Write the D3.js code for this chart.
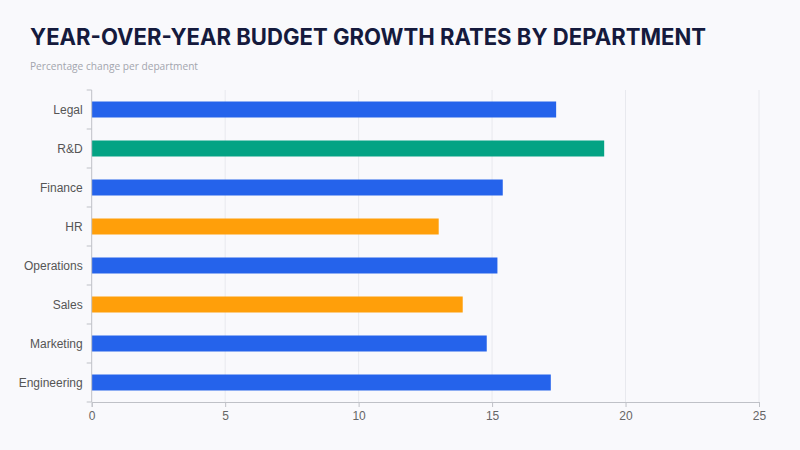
<!DOCTYPE html>
<html><head><meta charset="utf-8">
<script src="https://cdn.jsdelivr.net/npm/d3@7"></script>
<style>
html,body{margin:0;padding:0;background:#f9f9fc;}
svg{display:block;}
</style></head>
<body>
<svg id="chart" width="800" height="450"></svg>
<script>
const categories = ["Legal","R&D","Finance","HR","Operations","Sales","Marketing","Engineering"];
const growth = [17.4, 19.2, 15.4, 13.0, 15.2, 13.9, 14.8, 17.2];
const barColors = ["#2563eb","#04a384","#2563eb","#ff9f0a","#2563eb","#ff9f0a","#2563eb","#2563eb"];
const xTicks = [0,5,10,15,20,25];
const title = "YEAR-OVER-YEAR BUDGET GROWTH RATES BY DEPARTMENT";
const subtitle = "Percentage change per department";

const svg = d3.select("#chart");
svg.append("rect").attr("width",800).attr("height",450).attr("fill","#f9f9fc");

const m = {left:91.7, right:759, top:90, bottom:402};
const x = d3.scaleLinear().domain([0,25]).range([m.left,m.right]);
const y = d3.scaleBand().domain(categories).range([m.top,m.bottom]).paddingInner(0.59).paddingOuter(0.295);

// title
svg.append("text").attr("x",30).attr("y",45)
  .attr("font-family","Inter, 'DejaVu Sans', sans-serif").attr("font-weight",700)
  .attr("font-size",22.5).attr("fill","#151a3d")
  .attr("textLength",676).attr("lengthAdjust","spacingAndGlyphs")
  .text(title);
svg.append("text").attr("x",30).attr("y",70)
  .attr("font-family","'Open Sans', 'Noto Sans', sans-serif")
  .attr("font-size",11.5).attr("fill","#a3a5ae")
  .attr("textLength",168).attr("lengthAdjust","spacingAndGlyphs").text(subtitle);

// grid
svg.append("g").selectAll("line").data(xTicks.slice(1)).join("line")
  .attr("x1",d=>x(d)).attr("x2",d=>x(d)).attr("y1",m.top).attr("y2",m.bottom)
  .attr("stroke","#e8e9ee").attr("stroke-width",1);

// bars
svg.append("g").selectAll("rect").data(categories).join("rect")
  .attr("x",x(0)).attr("y",d=>y(d))
  .attr("width",(d,i)=>x(growth[i])-x(0)).attr("height",y.bandwidth())
  .attr("fill",(d,i)=>barColors[i]);

// x axis
const xa = svg.append("g").attr("transform",`translate(0,${m.bottom})`)
  .call(d3.axisBottom(x).tickValues(xTicks).tickSize(5).tickPadding(4));
xa.select(".domain").attr("stroke","#bfc1c7");
xa.selectAll(".tick line").attr("stroke","#bfc1c7");
xa.selectAll("text").attr("font-family","'Liberation Sans', Arial, sans-serif").attr("font-size",12).attr("fill","#666");

// y axis
const step = y.step();
const boundaries = d3.range(categories.length+1).map(i=>m.top + i*step);
const ya = svg.append("g");
ya.append("line").attr("x1",m.left).attr("x2",m.left).attr("y1",m.top).attr("y2",m.bottom).attr("stroke","#bfc1c7");
ya.selectAll(".tk").data(boundaries).join("line").attr("class","tk")
  .attr("x1",m.left-5).attr("x2",m.left).attr("y1",d=>d).attr("y2",d=>d).attr("stroke","#bfc1c7");
ya.selectAll("text").data(categories).join("text")
  .attr("x",m.left-9).attr("y",d=>y(d)+y.bandwidth()/2).attr("dy","0.35em")
  .attr("text-anchor","end").attr("font-family","'Liberation Sans', Arial, sans-serif")
  .attr("font-size",12).attr("fill","#555").text(d=>d);
</script>
</body></html>
